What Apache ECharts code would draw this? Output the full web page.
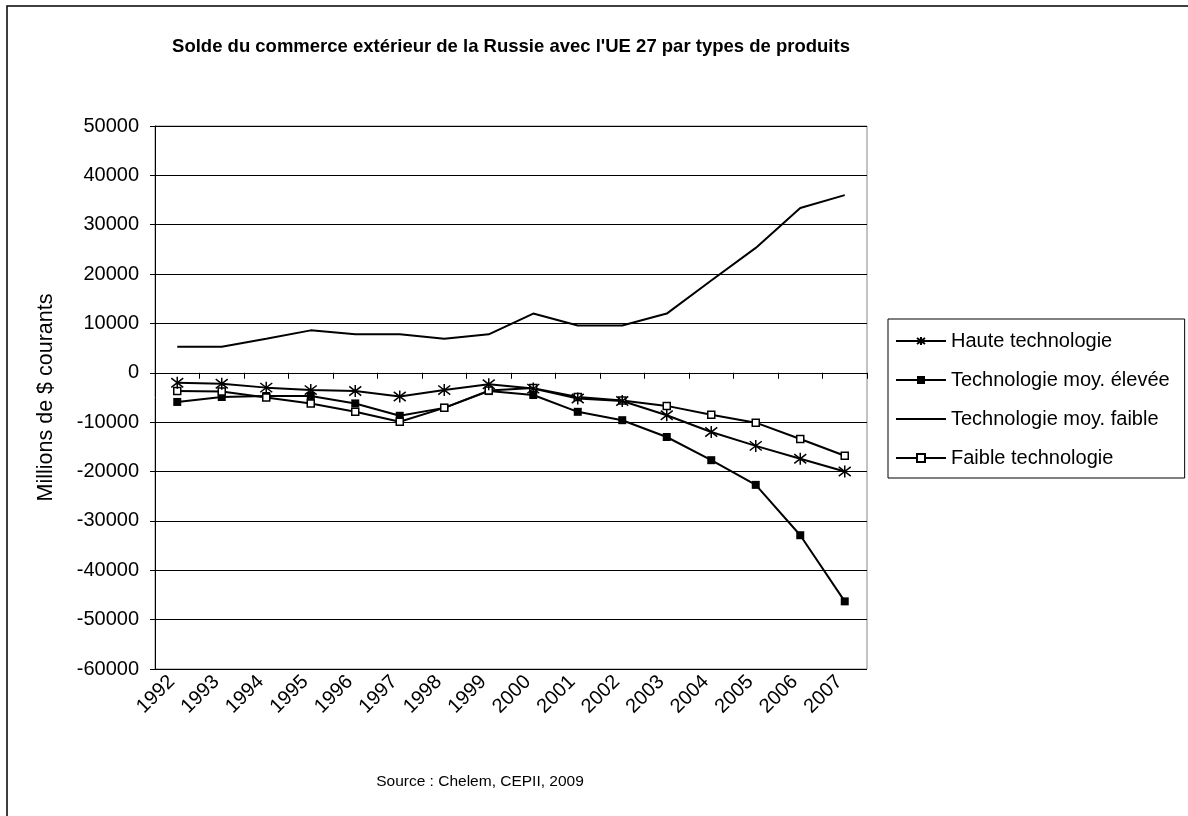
<!DOCTYPE html>
<html>
<head>
<meta charset="utf-8">
<script src="https://cdn.jsdelivr.net/npm/echarts@6/dist/echarts.min.js"></script>
<style>
  html, body { margin: 0; padding: 0; background: #fff; }
  #chart { width: 1188px; height: 816px; }
</style>
</head>
<body>
<div id="chart"></div>
<script>
// Years on the category axis
const years = ['1992', '1993', '1994', '1995', '1996', '1997', '1998', '1999',
               '2000', '2001', '2002', '2003', '2004', '2005', '2006', '2007'];

// Trade balance, millions of current dollars
const hauteTech = [-2000, -2200, -3000, -3500, -3700, -4800, -3500, -2300,
                   -3200, -5200, -5700, -8600, -12000, -14800, -17400, -20000];
const moyElevee = [-5900, -4900, -4700, -4700, -6200, -8700, -7100, -3700,
                   -4500, -7900, -9600, -13000, -17700, -22700, -32900, -46300];
const moyFaible = [5300, 5300, 6900, 8600, 7800, 7800, 6900, 7800,
                   12000, 9600, 9600, 12000, 18700, 25300, 33400, 36000];
const faibleTech = [-3700, -3800, -5000, -6200, -7900, -9900, -7100, -3600,
                    -3100, -4900, -5600, -6700, -8500, -10100, -13400, -16800];

const seriesNames = ['Haute technologie', 'Technologie moy. élevée',
                     'Technologie moy. faible', 'Faible technologie'];

const yTicks = { min: -60000, max: 50000, interval: 10000 };

const FONT = '"Liberation Sans", Arial, sans-serif';
const asterisk = 'path://M0,0L10,10M10,0L0,10M5,-1.5L5,11.5';

const chart = echarts.init(document.getElementById('chart'), null, { renderer: 'canvas' });

const lineStyle = { color: '#000', width: 2 };

chart.setOption({
  animation: false,
  backgroundColor: '#fff',
  title: {
    text: "Solde du commerce extérieur de la Russie avec l'UE 27 par types de produits",
    left: 506,
    textAlign: 'center',
    top: 32,
    textStyle: { fontFamily: FONT, fontSize: 18.5, fontWeight: 'bold', color: '#000' }
  },
  grid: {
    left: 155, top: 126, width: 712, height: 543,
    show: true, borderColor: '#888', borderWidth: 1, backgroundColor: '#fff'
  },
  legend: {
    orient: 'vertical',
    left: 888, top: 319,
    data: [
      { name: seriesNames[0] },
      { name: seriesNames[1] },
      { name: seriesNames[2], itemStyle: { color: 'rgba(0,0,0,0)', borderWidth: 0, opacity: 0 } },
      { name: seriesNames[3] }
    ],
    itemWidth: 50, itemHeight: 10, itemGap: 19,
    padding: [12, 15, 10, 7],
    borderColor: '#000', borderWidth: 1,
    backgroundColor: '#fff',
    textStyle: { fontFamily: FONT, fontSize: 20, color: '#000', lineHeight: 20 }
  },
  xAxis: [
    {
      type: 'category',
      data: years,
      boundaryGap: true,
      position: 'bottom',
      axisLine: { show: false, onZero: false },
      axisTick: { show: false },
      axisLabel: {
        rotate: 45, fontFamily: FONT, fontSize: 20, color: '#000',
        margin: 4, padding: [0, 8, 0, 0], interval: 0
      },
      splitLine: { show: false }
    },
    {
      type: 'category',
      data: years,
      boundaryGap: true,
      position: 'top',
      axisLine: { show: true, onZero: true, lineStyle: { color: '#000', width: 1 } },
      axisTick: { show: true, inside: true, length: 6, lineStyle: { color: '#000' } },
      axisLabel: { show: false },
      splitLine: { show: false }
    }
  ],
  yAxis: {
    type: 'value',
    min: yTicks.min, max: yTicks.max, interval: yTicks.interval,
    name: 'Millions de $ courants',
    nameLocation: 'middle',
    nameGap: 98,
    nameTextStyle: { fontFamily: FONT, fontSize: 21.5, color: '#000' },
    axisLine: { show: true, lineStyle: { color: '#000', width: 1 } },
    axisTick: { show: true, length: 5, lineStyle: { color: '#000' } },
    axisLabel: {
      fontFamily: FONT, fontSize: 20, color: '#000', margin: 16,
      formatter: (v) => String(v)
    },
    splitLine: { show: true, lineStyle: { color: '#000', width: 1 } }
  },
  series: [
    {
      name: seriesNames[0], type: 'line', data: hauteTech,
      symbol: asterisk, symbolSize: 12,
      itemStyle: { color: '#000', borderColor: '#000', borderWidth: 1.5 },
      lineStyle: lineStyle, z: 4
    },
    {
      name: seriesNames[1], type: 'line', data: moyElevee,
      symbol: 'rect', symbolSize: 8,
      itemStyle: { color: '#000' },
      lineStyle: lineStyle, z: 3
    },
    {
      name: seriesNames[2], type: 'line', data: moyFaible,
      symbol: 'none', showSymbol: false,
      itemStyle: { color: '#000' },
      lineStyle: lineStyle, z: 2
    },
    {
      name: seriesNames[3], type: 'line', data: faibleTech,
      symbol: 'rect', symbolSize: 7,
      itemStyle: { color: '#fff', borderColor: '#000', borderWidth: 1.5 },
      lineStyle: lineStyle, z: 3
    }
  ],
  graphic: [
    {
      type: 'rect', silent: true, z: -10,
      shape: { x: 7, y: 6, width: 1220, height: 840 },
      style: { fill: 'none', stroke: '#000', lineWidth: 1.5 }
    },
    {
      type: 'text', silent: true,
      x: 480, y: 782,
      style: {
        text: 'Source : Chelem, CEPII, 2009',
        textAlign: 'center', textVerticalAlign: 'middle',
        font: '15.5px ' + FONT, fill: '#000'
      }
    }
  ]
});
</script>
</body>
</html>
